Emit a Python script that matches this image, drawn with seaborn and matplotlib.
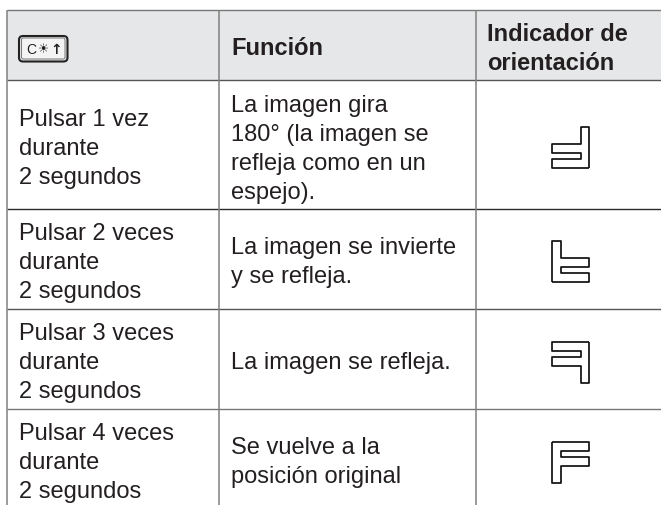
"""Spanish key-press table: how often to press the key and how the image turns."""

import numpy as np
import matplotlib.pyplot as plt
from matplotlib.patches import FancyBboxPatch, Rectangle
import seaborn as sns

W, H = 661, 506

headers = ["Función", "Indicador de", "orientación"]
presses = [
    ["Pulsar 1 vez", "durante", "2 segundos"],
    ["Pulsar 2 veces", "durante", "2 segundos"],
    ["Pulsar 3 veces", "durante", "2 segundos"],
    ["Pulsar 4 veces", "durante", "2 segundos"],
]
functions = [
    ["La imagen gira", "180° (la imagen se", "refleja como en un", "espejo)."],
    ["La imagen se invierte", "y se refleja."],
    ["La imagen se refleja."],
    ["Se vuelve a la", "posición original"],
]
# mirror flags of the F outline per row: (flip x, flip y)
flips = [(True, True), (False, True), (True, False), (False, False)]

# layout in pixels of the page
row_edges = [10.5, 81, 210, 310, 410]
col_edges = [7, 218.5, 476]
row_colors = ["#777777", "#555555", "#2a2a2a", "#555555", "#777777"]
press_base = [126, 240, 340, 440]
func_base = [112, 254, 369, 454]
glyph_top = [128, 242, 343, 443]
PITCH = 28.9

# F outline in its own box, width 37 and height 41
f_x = [0, 37, 37, 8.5, 8.5, 37, 37, 8.5, 8.5, 0, 0]
f_y = [0, 0, 9, 9, 15, 15, 24, 24, 41, 41, 0]

INK = "#231f20"
FS = 17


def rule(ax, xs, ys, color, lw):
    sns.lineplot(x=xs, y=ys, ax=ax, color=color, linewidth=lw, estimator=None,
                 sort=False, legend=False, solid_capstyle="butt")


def draw_glyph(ax, top, flip):
    x = np.array(f_x, dtype=float)
    y = np.array(f_y, dtype=float)
    if flip[0]:
        x = 37 - x
    if flip[1]:
        y = 41 - y
    rule(ax, x + 552, y + top, "#111111", 1.25)


def lines(ax, x, base, rows, **kw):
    for n, s in enumerate(rows):
        ax.text(x, base + n * PITCH, s, fontsize=FS, color=INK, va="baseline", **kw)


sns.set_theme(style="white")
plt.rcParams["font.family"] = ["Liberation Sans", "DejaVu Sans"]

fig = plt.figure(figsize=(W / 100, H / 100), dpi=100)
ax = fig.add_axes([0, 0, 1, 1])
ax.set_xlim(0, W)
ax.set_ylim(H, 0)
ax.axis("off")

ax.add_patch(Rectangle((col_edges[0], row_edges[0]), W - col_edges[0],
                       row_edges[1] - row_edges[0], fc="#e6e7e8", ec="none"))

for y, c in zip(row_edges, row_colors):
    rule(ax, [col_edges[0], W], [y, y], c, 1.0)
for x in col_edges:
    rule(ax, [x, x], [row_edges[0], H], "#808080", 1.1)

# key cap in the first header cell
ax.add_patch(FancyBboxPatch((19, 37), 48.5, 25.5, boxstyle="round,pad=0,rounding_size=4",
                            fc="none", ec="#222222", lw=1.5))
ax.add_patch(FancyBboxPatch((21.5, 39), 43.5, 21, boxstyle="round,pad=0,rounding_size=2",
                            fc="#f4f4f4", ec="#666666", lw=0.6))
ax.text(31, 50, "C", fontsize=10, color="#222222", ha="center", va="center")
ax.text(44, 49.5, "\u2600", fontsize=9, color="#222222", ha="center", va="center",
        family=["DejaVu Sans"])
ax.text(56, 49.5, "\u2191", fontsize=10, color="#222222", ha="center", va="center",
        family=["DejaVu Sans"], fontweight="bold")

lines(ax, 231, 55, headers[:1], fontweight="bold")
lines(ax, 487, 41, headers[1:], fontweight="bold")

for i in range(4):
    lines(ax, 19, press_base[i], presses[i])
    lines(ax, 231, func_base[i], functions[i])
    draw_glyph(ax, glyph_top[i], flips[i])

fig.savefig("out.png", dpi=100)
